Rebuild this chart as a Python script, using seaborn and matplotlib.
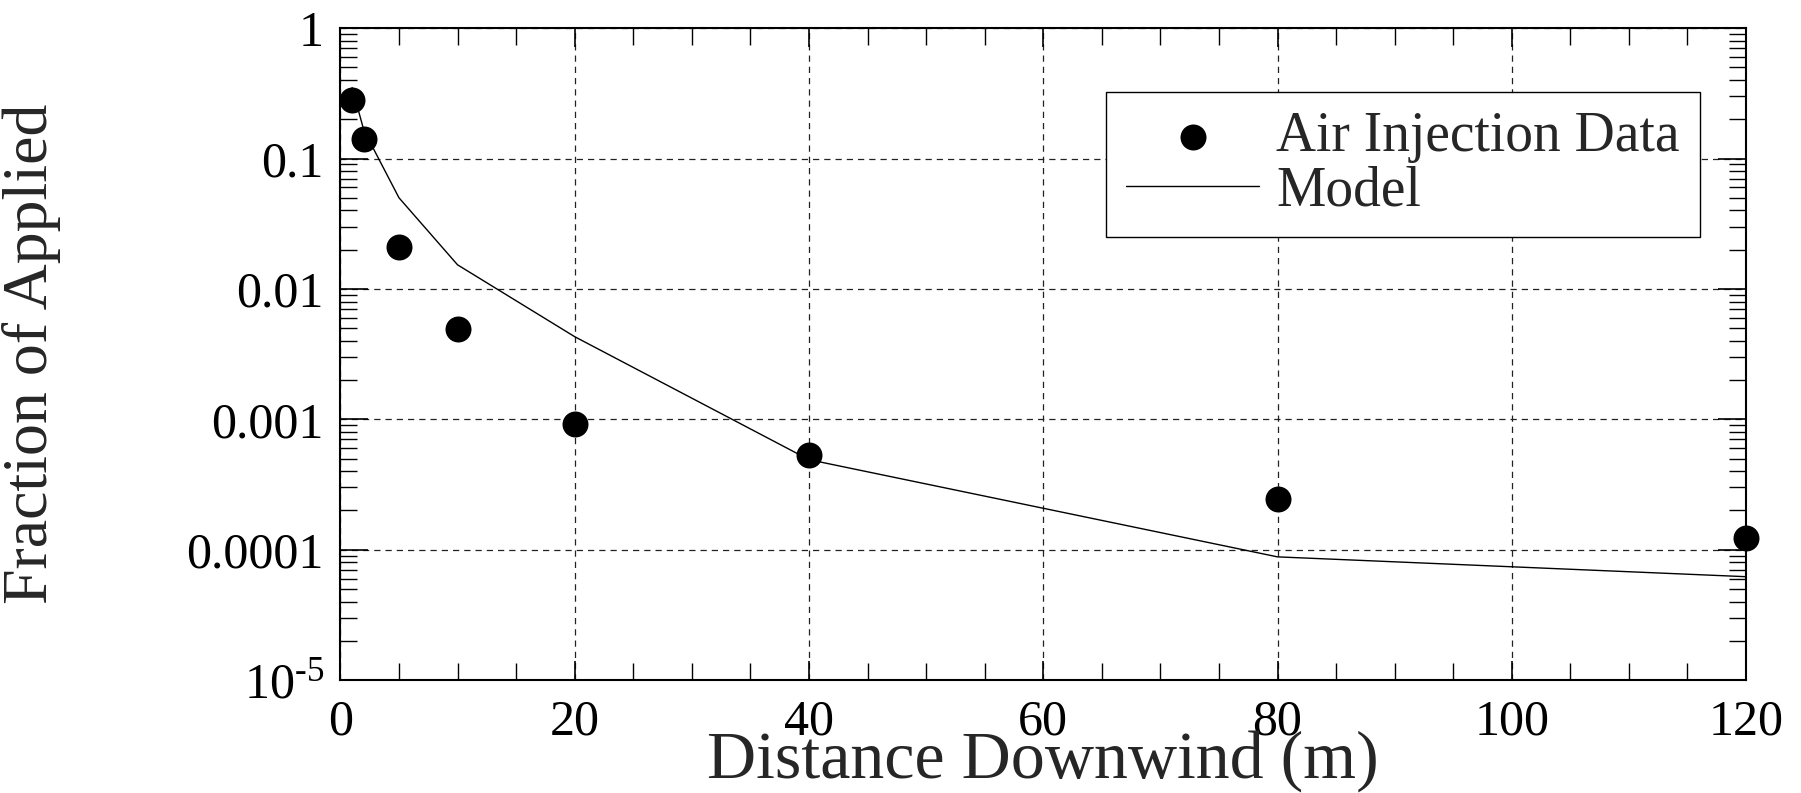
import numpy as np
import matplotlib
matplotlib.use("Agg")
import matplotlib.pyplot as plt
import matplotlib.ticker as mticker
import seaborn as sns

# data
data_x = [1, 2, 5, 10, 20, 40, 80, 120]
data_y = [0.28, 0.14, 0.021, 0.0049, 0.00092, 0.00053, 0.000245, 0.000122]

model_x = [1, 2, 5, 10, 20, 40, 80, 120]
model_y = [0.35, 0.165, 0.05, 0.0153, 0.0043, 0.00049, 0.000088, 0.000062]

y_ticks = [1e-5, 1e-4, 1e-3, 1e-2, 1e-1, 1]
y_tick_labels = [r"$10^{\text{-}5}$", "0.0001", "0.001", "0.01", "0.1", "1"]
x_ticks = [0, 20, 40, 60, 80, 100, 120]

sns.set_style("ticks")
plt.rcParams["font.family"] = ["Liberation Serif", "DejaVu Serif"]
plt.rcParams["mathtext.fontset"] = "custom"
plt.rcParams["mathtext.rm"] = "Liberation Serif"
plt.rcParams["mathtext.it"] = "Liberation Serif"

fig = plt.figure(figsize=(18.01, 7.93), dpi=100)
ax = fig.add_axes([0.189, 0.1425, 0.7805, 0.822])

sns.lineplot(x=model_x, y=model_y, ax=ax, color="black", linewidth=1.0,
             label="Model", estimator=None, zorder=3)
sns.scatterplot(x=data_x, y=data_y, ax=ax, color="black", s=300,
                edgecolor="black", marker="o", label="Air Injection Data",
                zorder=4, clip_on=False)

ax.set_yscale("log")
ax.set_xlim(0, 120)
ax.set_ylim(1e-5, 1)
ax.set_xticks(x_ticks)
ax.set_xticklabels([str(v) for v in x_ticks])
ax.xaxis.set_minor_locator(mticker.MultipleLocator(5))
ax.yaxis.set_major_locator(mticker.FixedLocator(y_ticks))
ax.yaxis.set_major_formatter(mticker.FixedFormatter(y_tick_labels))
ax.yaxis.set_minor_locator(mticker.LogLocator(base=10, subs=np.arange(2, 10), numticks=20))
ax.yaxis.set_minor_formatter(mticker.NullFormatter())

ax.tick_params(which="both", direction="in", top=True, right=True,
               colors="black", labelsize=36)
ax.tick_params(axis="y", which="major", length=20, width=1.2, pad=12)
ax.tick_params(axis="y", which="minor", length=12, width=1.0)
ax.tick_params(axis="x", which="major", length=14, width=1.2, pad=14)
ax.tick_params(axis="x", which="minor", length=12, width=1.0)

ax.grid(True, which="major", color="#222222", linestyle=(0, (5, 4)), linewidth=0.9)
for s in ax.spines.values():
    s.set_color("black")
    s.set_linewidth(1.5)

ax.set_xlabel("Distance Downwind (m)", fontsize=49)
ax.xaxis.set_label_coords(0.5, -0.150)
ax.xaxis.label.set_va("baseline")
ax.set_ylabel("Fraction of Applied", fontsize=46)
ax.yaxis.set_label_coords(-0.199, 0.5)

# legend: data first, then model
h, l = ax.get_legend_handles_labels()
order = [l.index("Air Injection Data"), l.index("Model")]
leg = ax.legend([h[i] for i in order], [l[i] for i in order],
                loc="upper left", bbox_to_anchor=(0.545, 0.902),
                borderaxespad=0, fontsize=40, frameon=True, fancybox=False,
                framealpha=1, edgecolor="black", handlelength=2.4,
                handletextpad=0.31, borderpad=0.35, labelspacing=0.04)
leg.get_frame().set_linewidth(1.0)

fig.savefig("out.png", dpi=100, facecolor="white")
